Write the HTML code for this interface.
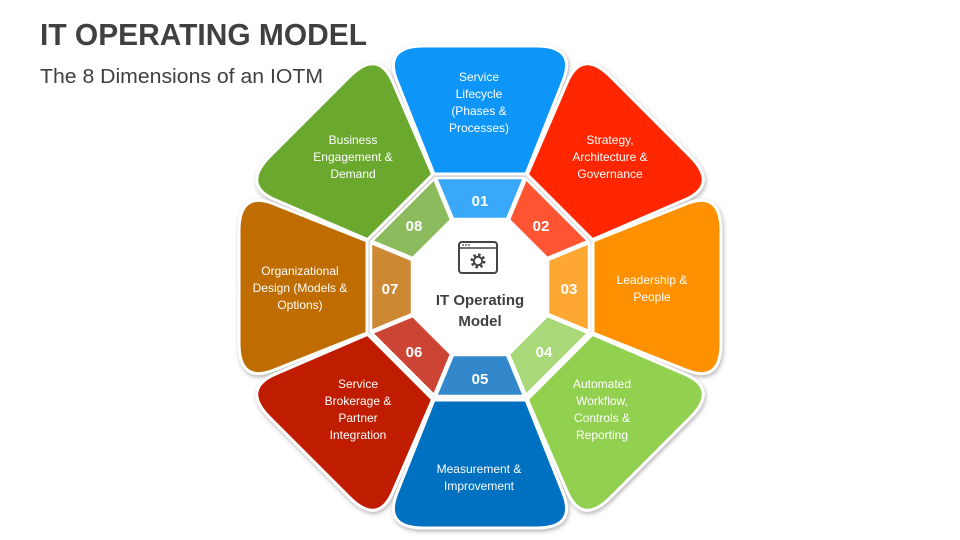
<!DOCTYPE html>
<html><head><meta charset="utf-8"><style>
html,body{margin:0;padding:0;background:#fff}
svg{display:block}
.t{font-family:"Liberation Sans",sans-serif;fill:#fff;font-size:12px;text-anchor:middle}
.n{font-family:"Liberation Sans",sans-serif;fill:#fff;font-size:15px;font-weight:bold;text-anchor:middle}
</style></head><body>
<svg width="960" height="540" viewBox="0 0 960 540" xmlns="http://www.w3.org/2000/svg">
<defs>
<filter id="sh" x="-20%" y="-20%" width="140%" height="140%"><feDropShadow dx="1" dy="2" stdDeviation="2" flood-color="#000" flood-opacity="0.3"/></filter>
<path id="petal" d="M -46,-113 L -83,-206 Q -97,-241 -56,-241 L 56,-241 Q 97,-241 83,-206 L 46,-113 Z"/>
<path id="num" d="M -27,-68 L -44,-109 L 44,-109 L 27,-68 Z"/>
</defs>
<text x="40" y="45" font-family="Liberation Sans,sans-serif" font-weight="bold" font-size="31" fill="#404040" textLength="327" lengthAdjust="spacingAndGlyphs">IT OPERATING MODEL</text>
<text x="40" y="83" font-family="Liberation Sans,sans-serif" font-size="20" fill="#404040" textLength="283" lengthAdjust="spacingAndGlyphs">The 8 Dimensions of an IOTM</text>
<g transform="translate(480,287)" filter="url(#sh)" stroke="#fff" stroke-width="3" stroke-linejoin="round">
<use href="#petal" fill="#0a96f8" transform="rotate(0)"/>
<use href="#petal" fill="#ff2600" transform="rotate(45)"/>
<use href="#petal" fill="#ff9000" transform="rotate(90)"/>
<use href="#petal" fill="#92d050" transform="rotate(135)"/>
<use href="#petal" fill="#0070c0" transform="rotate(180)"/>
<use href="#petal" fill="#bf1a00" transform="rotate(225)"/>
<use href="#petal" fill="#bf6c00" transform="rotate(270)"/>
<use href="#petal" fill="#6aa82f" transform="rotate(315)"/>
</g>
<g transform="translate(480,287)" stroke="#fff" stroke-width="2.5">
<use href="#num" fill="#3aa8f8" transform="rotate(0)"/>
<use href="#num" fill="#ff5533" transform="rotate(45)"/>
<use href="#num" fill="#ffa733" transform="rotate(90)"/>
<use href="#num" fill="#a8d878" transform="rotate(135)"/>
<use href="#num" fill="#3388cc" transform="rotate(180)"/>
<use href="#num" fill="#cc4433" transform="rotate(225)"/>
<use href="#num" fill="#cc8833" transform="rotate(270)"/>
<use href="#num" fill="#8bbb5c" transform="rotate(315)"/>
</g>
<text class="n" x="480" y="206">01</text>
<text class="n" x="541" y="231">02</text>
<text class="n" x="569" y="294">03</text>
<text class="n" x="544" y="357">04</text>
<text class="n" x="480" y="384">05</text>
<text class="n" x="414" y="357">06</text>
<text class="n" x="390" y="294">07</text>
<text class="n" x="414" y="231">08</text>
<text class="t" x="479" y="81">Service</text>
<text class="t" x="479" y="98">Lifecycle</text>
<text class="t" x="479" y="115">(Phases &amp;</text>
<text class="t" x="479" y="132">Processes)</text>
<text class="t" x="610" y="144">Strategy,</text>
<text class="t" x="610" y="161">Architecture &amp;</text>
<text class="t" x="610" y="178">Governance</text>
<text class="t" x="652" y="284">Leadership &amp;</text>
<text class="t" x="652" y="301">People</text>
<text class="t" x="602" y="388">Automated</text>
<text class="t" x="602" y="405">Workflow,</text>
<text class="t" x="602" y="422">Controls &amp;</text>
<text class="t" x="602" y="439">Reporting</text>
<text class="t" x="479" y="473">Measurement &amp;</text>
<text class="t" x="479" y="490">Improvement</text>
<text class="t" x="358" y="388">Service</text>
<text class="t" x="358" y="405">Brokerage &amp;</text>
<text class="t" x="358" y="422">Partner</text>
<text class="t" x="358" y="439">Integration</text>
<text class="t" x="300" y="275">Organizational</text>
<text class="t" x="300" y="292">Design (Models &amp;</text>
<text class="t" x="300" y="309">Options)</text>
<text class="t" x="353" y="144">Business</text>
<text class="t" x="353" y="161">Engagement &amp;</text>
<text class="t" x="353" y="178">Demand</text>
<g transform="translate(478,258)">
<rect x="-19" y="-16" width="38" height="31" rx="3" fill="#fff" stroke="#444" stroke-width="2"/>
<line x1="-19" y1="-10" x2="19" y2="-10" stroke="#444" stroke-width="1.5"/>
<circle cx="-15" cy="-13" r="0.9" fill="#444"/><circle cx="-12" cy="-13" r="0.9" fill="#444"/><circle cx="-9" cy="-13" r="0.9" fill="#444"/>
<circle cx="0" cy="3" r="6" fill="none" stroke="#444" stroke-width="3" stroke-dasharray="2.4 2.3"/>
<circle cx="0" cy="3" r="4.2" fill="none" stroke="#444" stroke-width="2"/>
</g>
<text x="480" y="305" font-family="Liberation Sans,sans-serif" font-weight="bold" font-size="15" fill="#404040" text-anchor="middle">IT Operating</text>
<text x="480" y="326" font-family="Liberation Sans,sans-serif" font-weight="bold" font-size="15" fill="#404040" text-anchor="middle">Model</text>
</svg>
</body></html>
